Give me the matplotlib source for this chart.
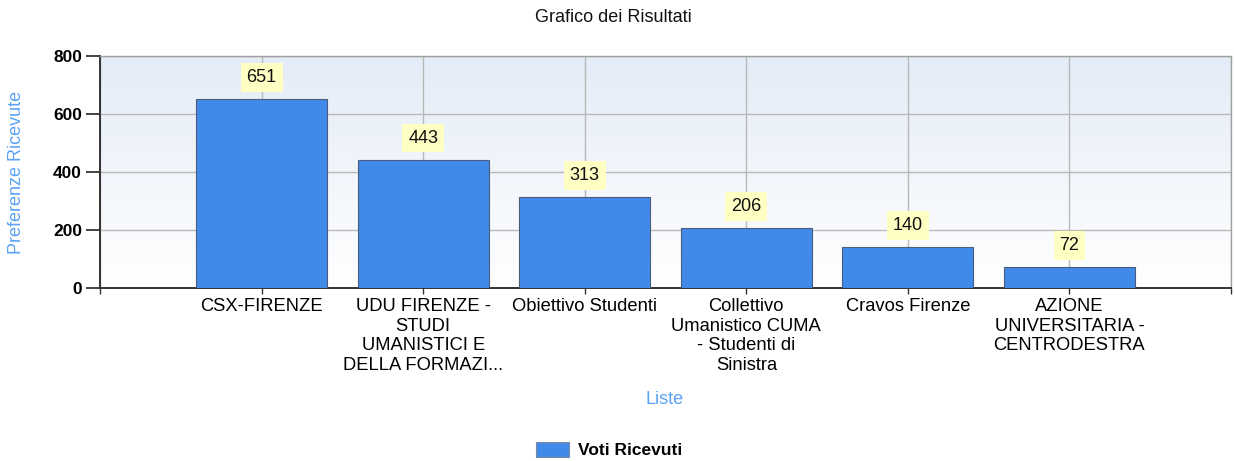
import numpy as np
import matplotlib
matplotlib.use("Agg")
import matplotlib.pyplot as plt
from matplotlib.patches import Patch

categories = ["CSX-FIRENZE",
              "UDU FIRENZE -\nSTUDI\nUMANISTICI E\nDELLA FORMAZI...",
              "Obiettivo Studenti",
              "Collettivo\nUmanistico CUMA\n- Studenti di\nSinistra",
              "Cravos Firenze",
              "AZIONE\nUNIVERSITARIA -\nCENTRODESTRA"]
votes = [651, 443, 313, 206, 140, 72]
series_name = "Voti Ricevuti"
title = "Grafico dei Risultati"
y_label = "Preferenze Ricevute"
x_label = "Liste"
y_ticks = [0, 200, 400, 600, 800]

plt.rcParams['font.family'] = ['Liberation Sans', 'DejaVu Sans']

fig = plt.figure(figsize=(12.34, 4.61), dpi=100)
ax = fig.add_axes([100/1234, 1-288/461, 1131/1234, 232/461])

x = np.arange(1, len(votes) + 1)
bar_color = '#418AEA'

# gradient background
grad = np.linspace(0, 1, 256).reshape(-1, 1)
top = np.array([0.894, 0.925, 0.969])
bot = np.array([1.0, 1.0, 1.0])
cols = (top * (1 - grad) + bot * grad)  # row 0 = top
ax.imshow(cols.reshape(256, 1, 3), extent=[0, 1, 0, 1], transform=ax.transAxes,
          aspect='auto', zorder=0, origin='upper')

ax.set_xlim(0, 7)
ax.set_ylim(0, 800)

bars = ax.bar(x, votes, width=0.81, color=bar_color, edgecolor='#4a5d78',
              linewidth=0.8, zorder=3)

for xi, v in zip(x, votes):
    ax.annotate(str(v), (xi, v), xytext=(0, 15.5), textcoords='offset points',
                ha='center', va='center', fontsize=13, color='#111111',
                bbox=dict(boxstyle='square,pad=0.33', fc='#FFFFC4', ec='none'),
                zorder=4)

ax.set_xticks(x)
ax.set_xticklabels(categories, fontsize=13.2, linespacing=1.22)
ax.set_xticks([0, 7], minor=True)
ax.set_yticks(y_ticks)
ax.set_yticklabels([str(t) for t in y_ticks], fontsize=12.5, fontweight='bold')
ax.tick_params(axis='x', which='both', length=4, width=1, color='#333333', pad=3)
ax.tick_params(axis='y', length=10, width=1.2, color='#222222', pad=3)

ax.grid(True, color='#b8b8b8', linewidth=1, zorder=1)
for xi in [0, 7]:
    ax.axvline(xi, color='#b8b8b8', linewidth=1, zorder=1)
ax.set_axisbelow(True)

for s in ['top', 'right']:
    ax.spines[s].set_color('#a0a0a0')
    ax.spines[s].set_linewidth(1)
for s in ['left', 'bottom']:
    ax.spines[s].set_color('#333333')
    ax.spines[s].set_linewidth(1.4)

ax.set_ylabel(y_label, fontsize=13, color='#5AA2F5')
ax.yaxis.set_label_coords(-75/1131, 0.5)
ax.set_xlabel(x_label, fontsize=13, color='#5AA2F5', va='center')
ax.xaxis.set_label_coords((665-100)/1131, -(399-288)/232)

fig.text(613/1234, 1-17/461, title, ha='center', va='center', fontsize=13, color='#111111')

handle = Patch(facecolor=bar_color, edgecolor='#7a8aa0', linewidth=0.8)
leg = fig.legend([handle], [series_name], loc='center', bbox_to_anchor=(609/1234, 1-450/461),
                 frameon=False, prop={'size': 12.5, 'weight': 'bold'},
                 handlelength=1.9, handleheight=0.95, handletextpad=0.5)

fig.savefig("out.png", dpi=100)
